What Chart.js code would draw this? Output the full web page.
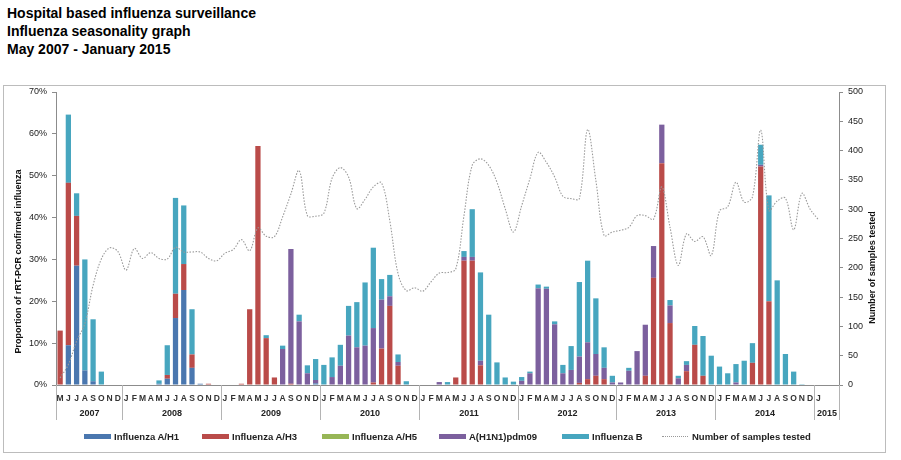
<!DOCTYPE html>
<html>
<head>
<meta charset="utf-8">
<title>Influenza seasonality graph</title>
<script src="https://cdn.jsdelivr.net/npm/chart.js@4.4.1/dist/chart.umd.min.js"></script>
<style>
  body { margin: 0; background: #fff; width: 901px; height: 460px; overflow: hidden; position: relative;
         font-family: "Liberation Sans", Arial, sans-serif; }
  #title { position: absolute; left: 7px; top: 4px; font-weight: bold; font-size: 14px; line-height: 18px; color: #000; }
  #frame { position: absolute; left: 3px; top: 85px; width: 881px; height: 366px; border: 1px solid #bcbcbc; }
  canvas { position: absolute; left: 0; top: 0; }
  .leg { position: absolute; top: 431px; font-weight: bold; font-size: 9.5px; line-height: 12px; color: #222; white-space: nowrap; }
  .sw { position: absolute; top: 434px; width: 27px; height: 5px; }
  .dots { position: absolute; top: 436px; width: 26px; border-top: 1px dotted #999; }
</style>
</head>
<body>
<div id="title">Hospital based influenza surveillance<br>Influenza seasonality graph<br>May 2007 - January 2015</div>
<div id="frame"></div>
<canvas id="fluChart" width="901" height="460"></canvas>
<div id="legend"></div>

<script>
// category axis: May 2007 .. Jan 2015 (Feb/Mar 2015 left empty)
const monthLetters = ["J", "F", "M", "A", "M", "J", "J", "A", "S", "O", "N", "D"];
const yearLabels = ["2007", "2008", "2009", "2010", "2011", "2012", "2013", "2014", "2015"];
const yearLengths = [8, 12, 12, 12, 12, 12, 12, 12, 3];

const monthLabels = [];
yearLengths.forEach(function (len, k) {
  for (let m = 0; m < len; m++) {
    if (k === 0) monthLabels.push(monthLetters[m + 4]);
    else if (k === yearLengths.length - 1) monthLabels.push(m === 0 ? "J" : "");
    else monthLabels.push(monthLetters[m]);
  }
});

// proportion of rRT-PCR confirmed influenza (%), one row per year
const fluAH1 = [].concat(
  [0, 9.5, 28.5, 3.5, 0.9, 0, 0, 0],
  [0, 0, 0, 0, 0.3, 1.5, 16, 22.7, 4.1, 0.3, 0, 0],
  [0, 0, 0, 0, 0, 0, 0, 0, 0, 0, 0, 0.4],
  [0, 0, 0, 0, 0, 0, 0, 0, 0, 0, 0, 0],
  [0, 0, 0, 0, 0, 0, 0, 0, 0, 0, 0, 0],
  [0, 0, 0, 0, 0, 0, 0, 0, 0, 0, 0, 0],
  [0, 0, 0, 0, 0, 0, 0, 0, 0, 0, 0, 0],
  [0, 0, 0, 0, 0, 0, 0, 0, 0, 0, 0, 0],
  [0, null, null]
);
const fluAH3 = [].concat(
  [13, 38.8, 11.9, 0, 0, 0, 0, 0],
  [0, 0, 0, 0, 0, 0.9, 5.8, 6.2, 3.2, 0, 0.3, 0],
  [0, 0, 0.3, 18.1, 57.1, 11.2, 1.8, 0, 0.3, 0, 0, 0],
  [0, 0, 0, 0, 0, 0, 0.6, 8.7, 18.9, 4.6, 0, 0],
  [0, 0, 0, 0, 1.8, 29.7, 29.7, 4.7, 0, 0, 0, 0],
  [0, 0, 0, 0, 0, 0, 0, 0.5, 1.4, 2.2, 1.4, 0],
  [0, 0, 0, 2.2, 25.6, 53.0, 14.8, 0, 3.3, 9.6, 2.2, 0],
  [0, 0, 0, 0, 5.3, 52.2, 20.0, 0, 0, 0, 0, 0],
  [0, null, null]
);
const fluAH5 = [].concat(
  [0, 0, 0, 0, 0, 0, 0, 0],
  [0, 0, 0, 0, 0, 0, 0, 0, 0, 0, 0, 0],
  [0, 0, 0, 0, 0, 0, 0, 0, 0, 0, 0, 0],
  [0, 0, 0, 0, 0, 0, 0, 0, 0, 0, 0, 0],
  [0, 0, 0, 0, 0, 0, 0, 0, 0, 0, 0, 0],
  [0, 0, 0, 0, 0, 0, 0, 0, 0, 0, 0, 0],
  [0, 0, 0, 0, 0, 0, 0, 0, 0, 0, 0, 0],
  [0, 0, 0, 0, 0, 0, 0, 0, 0, 0, 0, 0],
  [0, null, null]
);
const fluPdm09 = [].concat(
  [0, 0, 0, 0, 0, 0, 0, 0],
  [0, 0, 0, 0, 0, 0, 0, 0, 0, 0, 0, 0],
  [0, 0, 0, 0, 0, 0, 0, 8.6, 32.2, 15.2, 2.8, 0.8],
  [0, 1.9, 4.6, 11.8, 9.0, 9.4, 13.0, 11.7, 2.3, 0.9, 0, 0],
  [0, 0, 0.7, 0, 0, 0.9, 0.9, 1.1, 0, 0, 0, 0],
  [1.0, 2.8, 23.1, 23.0, 14.5, 2.8, 3.6, 6.3, 8.8, 5.2, 2.7, 0.6],
  [0.6, 3.4, 8.1, 12.2, 7.6, 9.2, 4.2, 1.6, 1.5, 0, 0, 0],
  [0, 0, 0.6, 0, 0, 0.4, 0, 0, 0, 0, 0, 0],
  [0, null, null]
);
const fluB = [].concat(
  [0, 16.3, 5.4, 26.5, 14.8, 3.2, 0, 0],
  [0, 0, 0, 0, 0.8, 7.1, 22.9, 14.0, 10.8, 0, 0, 0],
  [0, 0, 0, 0, 0, 0.7, 0, 0.8, 0, 1.6, 1.9, 5.0],
  [4.8, 4.7, 5.0, 7.1, 10.8, 15.1, 19.2, 4.9, 5.1, 1.8, 0.9, 0],
  [0, 0, 0, 0.7, 0, 1.4, 11.4, 21.1, 16.8, 5.4, 1.8, 0.8],
  [0.9, 0.4, 0.9, 0.5, 0.7, 2.0, 5.7, 17.8, 19.5, 13.3, 4.9, 1.6],
  [0, 0.7, 0, 0, 0, 0, 1.3, 0.6, 0.9, 4.5, 9.5, 7.0],
  [4.4, 2.8, 4.4, 5.8, 4.7, 4.8, 25.3, 25.0, 7.4, 3.2, 0.2, 0],
  [0, null, null]
);
// number of samples tested (right axis)
const samplesTested = [].concat(
  [12, 35, 75, 105, 170, 215, 234, 228],
  [196, 233, 216, 226, 216, 215, 235, 227, 227, 227, 216, 212],
  [225, 231, 248, 229, 268, 254, 253, 287, 326, 366, 289, 288],
  [293, 353, 371, 355, 301, 317, 338, 345, 280, 190, 161, 166],
  [160, 176, 191, 192, 198, 289, 375, 386, 375, 346, 301, 261],
  [306, 352, 397, 380, 355, 322, 318, 318, 436, 349, 255, 261],
  [264, 269, 289, 289, 283, 338, 269, 204, 258, 245, 253, 221],
  [297, 304, 346, 312, 321, 435, 298, 314, 319, 265, 327, 300],
  [282, null, null]
);

const seriesNames = ["Influenza A/H1", "Influenza A/H3", "Influenza A/H5", "A(H1N1)pdm09", "Influenza B"];
const seriesColors = ["#4A77AF", "#BA4B49", "#97B656", "#7C609E", "#47A6BF"];
const seriesData = [fluAH1, fluAH3, fluAH5, fluPdm09, fluB];

const FONT = "'Liberation Sans', Arial, sans-serif";

// year row + separators under the month letters, and the two axis titles
const yearAxisPlugin = {
  id: "yearAxis",
  afterDraw(chart) {
    const ctx = chart.ctx;
    const xs = chart.scales.x;
    const area = chart.chartArea;
    const step = area.width / monthLabels.length;
    ctx.save();
    ctx.strokeStyle = "#b4b4b4";
    ctx.lineWidth = 1;
    ctx.fillStyle = "#222";
    ctx.font = "bold 9px " + FONT;
    ctx.textAlign = "center";
    ctx.textBaseline = "middle";
    let start = 0;
    yearLabels.forEach(function (yr, k) {
      const x0 = Math.round(xs.getPixelForValue(start) - step / 2) + 0.5;
      const x1 = Math.round(xs.getPixelForValue(start + yearLengths[k] - 1) + step / 2) + 0.5;
      ctx.beginPath();
      ctx.moveTo(x0, area.bottom);
      ctx.lineTo(x0, area.bottom + 35);
      if (k === yearLabels.length - 1) {
        ctx.moveTo(x1, area.bottom);
        ctx.lineTo(x1, area.bottom + 35);
      }
      ctx.stroke();
      ctx.fillText(yr, (x0 + x1) / 2, area.bottom + 29);
      start += yearLengths[k];
    });

    const midY = (area.top + area.bottom) / 2;
    ctx.fillStyle = "#111";
    ctx.save();
    ctx.translate(19, midY + 23);
    ctx.rotate(-Math.PI / 2);
    ctx.fillText("Proportion of rRT-PCR confirmed influenza", 0, 0);
    ctx.restore();
    ctx.save();
    ctx.translate(873, midY + 29);
    ctx.rotate(-Math.PI / 2);
    ctx.fillText("Number of samples tested", 0, 0);
    ctx.restore();
    ctx.restore();
  }
};

const datasets = seriesNames.map(function (name, i) {
  return {
    type: "bar",
    label: name,
    data: seriesData[i],
    backgroundColor: seriesColors[i],
    borderWidth: 0,
    stack: "flu",
    yAxisID: "y",
    order: 1,
    categoryPercentage: 1,
    barPercentage: 0.64,
  };
});
datasets.push({
  type: "line",
  label: "Number of samples tested",
  data: samplesTested,
  borderColor: "#9a9a9a",
  borderWidth: 1.1,
  borderDash: [1.5, 1.5],
  pointRadius: 0,
  tension: 0.35,
  fill: false,
  yAxisID: "y1",
  order: 0,
});

const axisGrid = { display: true, drawOnChartArea: false, drawTicks: true, tickLength: 4, color: "#8c8c8c" };

const ctx = document.getElementById("fluChart").getContext("2d");
const fluChart = new Chart(ctx, {
  type: "bar",
  data: { labels: monthLabels, datasets: datasets },
  options: {
    responsive: false,
    animation: false,
    devicePixelRatio: 1,
    layout: { padding: { top: 92, left: 0, right: 0, bottom: 0 } },
    plugins: { legend: { display: false }, title: { display: false }, tooltip: { enabled: false } },
    scales: {
      x: {
        stacked: true,
        grid: { display: false },
        border: { display: true, color: "#8c8c8c" },
        ticks: {
          autoSkip: false, maxRotation: 0, minRotation: 0, padding: 1,
          color: "#333", font: { family: FONT, size: 8.5, weight: "bold" },
        },
        afterFit(scale) { scale.height = 75; },
      },
      y: {
        stacked: true,
        position: "left",
        min: 0, max: 70,
        grid: axisGrid,
        border: { display: true, color: "#8c8c8c" },
        ticks: {
          stepSize: 10, padding: 5, color: "#222",
          font: { family: FONT, size: 9 },
          callback: function (v) { return v + "%"; },
        },
        afterFit(scale) { scale.width = 56; },
      },
      y1: {
        position: "right",
        min: 0, max: 500,
        grid: axisGrid,
        border: { display: true, color: "#8c8c8c" },
        ticks: { stepSize: 50, padding: 5, color: "#222", font: { family: FONT, size: 9 } },
        afterFit(scale) { scale.width = 62; },
      },
    },
  },
  plugins: [yearAxisPlugin],
});

// legend under the chart
const legendLeft = [84, 202, 322, 439, 562];
const legend = document.getElementById("legend");
seriesNames.forEach(function (name, i) {
  const sw = document.createElement("div");
  sw.className = "sw";
  sw.style.left = legendLeft[i] + "px";
  sw.style.background = seriesColors[i];
  legend.appendChild(sw);
  const tx = document.createElement("div");
  tx.className = "leg";
  tx.style.left = (legendLeft[i] + 30) + "px";
  tx.textContent = name;
  legend.appendChild(tx);
});
const dots = document.createElement("div");
dots.className = "dots";
dots.style.left = "662px";
legend.appendChild(dots);
const lineText = document.createElement("div");
lineText.className = "leg";
lineText.style.left = "692px";
lineText.textContent = "Number of samples tested";
legend.appendChild(lineText);
</script>
</body>
</html>
